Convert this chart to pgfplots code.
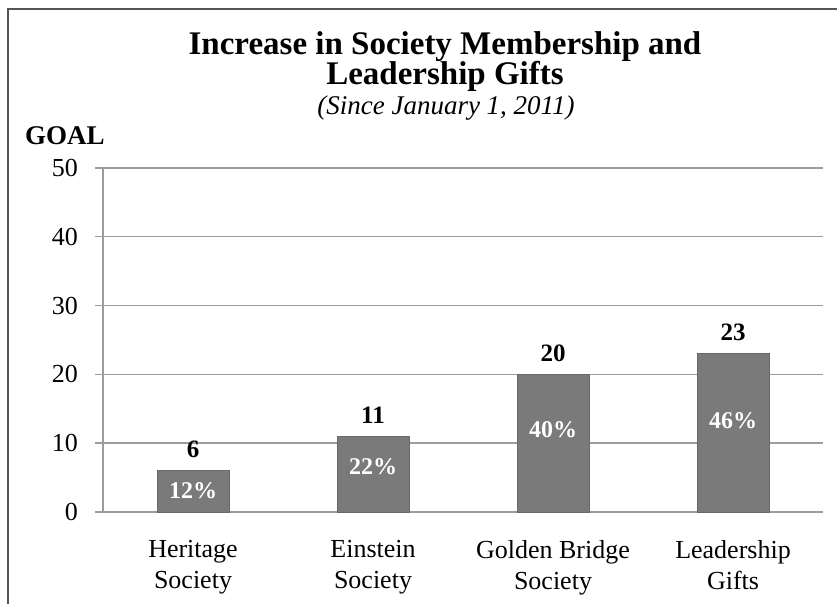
\documentclass[border=0pt]{standalone}
\usepackage{fontspec}
\setmainfont{Liberation Serif}
\usepackage{pgfplots}
\pgfplotsset{compat=1.18}
\definecolor{barcol}{HTML}{7A7A7A}
\definecolor{gridcol}{HTML}{9C9C9C}
\definecolor{framecol}{HTML}{555555}
\begin{document}
\begin{tikzpicture}[x=1pt,y=1pt]
\useasboundingbox (0,0) rectangle (837,604);
\draw[line width=2pt, framecol] (8,-5) -- (8,595) -- (842,595);
\node[anchor=base, font=\fontsize{33}{36}\selectfont\bfseries, inner sep=0pt] at (445,549) {Increase in Society Membership and};
\node[anchor=base, font=\fontsize{33}{36}\selectfont\bfseries, inner sep=0pt] at (445,519) {Leadership Gifts};
\node[anchor=base, font=\fontsize{27}{30}\selectfont\itshape, inner sep=0pt] at (446,489) {(Since January 1, 2011)};
\node[anchor=base west, font=\fontsize{27}{30}\selectfont\bfseries, inner sep=0pt] at (25,459) {GOAL};
\begin{axis}[
  at={(103pt,92pt)}, anchor=south west,
  scale only axis, width=720pt, height=344pt,
  xmin=-0.5, xmax=3.5, ymin=0, ymax=50,
  axis x line*=bottom, axis y line*=left,
  axis line style={-, draw=gridcol, line width=1.4pt},
  ytick={0,10,20,30,40,50},
  ymajorgrids, grid style={draw=gridcol, line width=1.4pt},
  tick align=outside,
  major tick length=8pt,
  tick style={draw=gridcol, line width=1.4pt},
  /pgf/number format/assume math mode=true,
  yticklabel style={font=\fontsize{26}{30}\selectfont, inner sep=0pt, xshift=-17pt},
  xtick={0,1,2,3},
  x tick style={draw=none},
  xticklabels={{Heritage\\Society},{Einstein\\Society},{Golden Bridge\\Society},{Leadership\\Gifts}},
  xticklabel style={font=\fontsize{26}{31}\selectfont, align=center, inner sep=0pt, yshift=-20pt},
  extra x ticks={-0.5,0.5,1.5,2.5,3.5},
  extra x tick labels={},
  extra x tick style={grid=none, major tick length=7pt, tick style={draw=gridcol, line width=1.4pt}},
  clip=false,
]
\addplot[ybar, bar width=72pt, fill=barcol, draw=barcol!85!black, line width=0.6pt,
  nodes near coords,
  every node near coord/.style={anchor=base, yshift=13pt, inner sep=0pt, font=\fontsize{25}{28}\selectfont\bfseries, text=black},
  /pgf/number format/assume math mode=true]
  coordinates {(0,6) (1,11) (2,20) (3,23)};
\addplot[draw=none, mark=none, nodes near coords, point meta=explicit symbolic,
  every node near coord/.style={anchor=base, inner sep=0pt, font=\fontsize{24}{28}\selectfont\bfseries, text=white}]
  coordinates {(0,1.9) [12\%] (1,5.4) [22\%] (2,10.9) [40\%] (3,12.2) [46\%]};
\end{axis}
\end{tikzpicture}
\end{document}
